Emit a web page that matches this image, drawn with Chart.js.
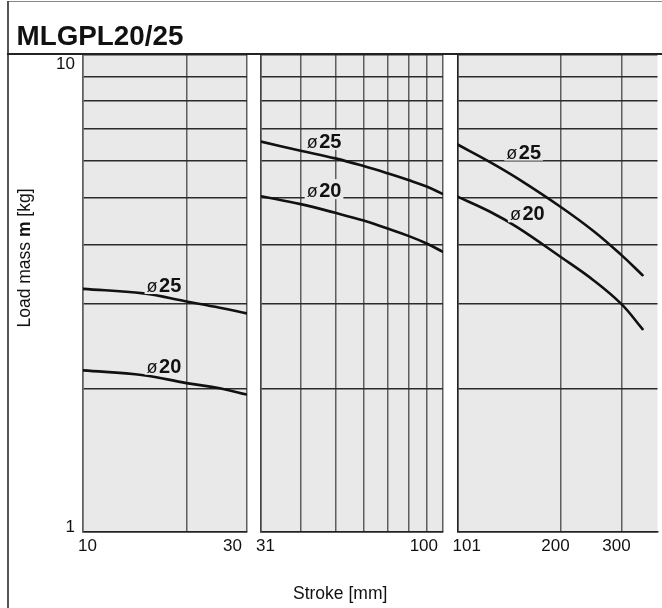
<!DOCTYPE html>
<html>
<head>
<meta charset="utf-8">
<script src="https://cdn.jsdelivr.net/npm/chart.js@4.4.1/dist/chart.umd.min.js"></script>
<style>
  html, body { margin: 0; padding: 0; background: #fff; }
  #wrap { position: relative; width: 662px; height: 608px; overflow: hidden; background: #fff;
          font-family: 'Liberation Sans', Arial, Helvetica, sans-serif; color: #111; }
  canvas { position: absolute; left: 0; top: 0; }
  .ln { position: absolute; }
  #title { position: absolute; left: 16.5px; top: 20.5px; font-size: 27.8px; line-height: 30px; font-weight: bold; white-space: nowrap; }
  #ytitle { position: absolute; width: 200px; height: 20px; line-height: 20px; font-size: 17.5px; text-align: center;
            left: -76px; top: 248px; transform: rotate(-90deg); transform-origin: 50% 50%; white-space: nowrap; }
  #xtitle { position: absolute; left: 293px; top: 583px; font-size: 17.5px; line-height: 20px; white-space: nowrap; }
</style>
</head>
<body>
<div id="wrap">
  <canvas id="c1" width="662" height="608"></canvas>
  <canvas id="c2" width="662" height="608"></canvas>
  <canvas id="c3" width="662" height="608"></canvas>
  <div class="ln" style="left:7px;top:0.5px;width:655px;height:1.2px;background:#888;"></div>
  <div class="ln" style="left:7px;top:0.5px;width:1.5px;height:608px;background:#555;"></div>
  <div class="ln" style="left:7px;top:53.2px;width:655px;height:1.5px;background:#222;"></div>
  <div id="title">MLGPL20/25</div>
  <div id="ytitle">Load mass <b>m</b> [kg]</div>
  <div id="xtitle">Stroke [mm]</div>
</div>
<script>
// ---------------- data ----------------
const seriesNames = ['ø25', 'ø20'];

const panel1Stroke = [10, 15, 20, 25, 30];
const panel1Phi25  = [3.23, 3.16, 3.04, 2.95, 2.87];
const panel1Phi20  = [2.18, 2.13, 2.05, 2.00, 1.94];

const panel2Stroke = [31, 40, 50, 60, 70, 80, 90, 100];
const panel2Phi25  = [6.57, 6.29, 6.06, 5.84, 5.64, 5.46, 5.29, 5.10];
const panel2Phi20  = [5.05, 4.86, 4.66, 4.49, 4.32, 4.17, 4.02, 3.86];

const panel3Stroke = [101, 125, 150, 200, 250, 300, 345];
const panel3Phi25  = [6.48, 5.96, 5.51, 4.80, 4.26, 3.80, 3.45];
const panel3Phi20  = [5.04, 4.69, 4.35, 3.77, 3.36, 3.00, 2.66];

const panel1XTicks = [10, 20, 30];
const panel1XTickLabels = ['10', '', '30'];
const panel2XTicks = [31, 40, 50, 60, 70, 80, 90, 100];
const panel2XTickLabels = ['31', '', '', '', '', '', '', '100'];
const panel3XTicks = [101, 200, 300, 381];
const panel3XTickLabels = ['101', '200', '300', ''];

const yTicks = [1, 2, 3, 4, 5, 6, 7, 8, 9, 10];
const yTickLabels = ['1', '', '', '', '', '', '', '', '', '10'];

// curve-label anchors (data coordinates): [ø25, ø20]
const panel1LabelX = [17.2, 17.2],   panel1LabelY = [3.29, 2.23];
const panel2LabelX = [46.5, 46.5],   panel2LabelY = [6.59, 5.20];
const panel3LabelX = [156.7, 160.5], panel3LabelY = [6.26, 4.65];

// ---------------- drawing ----------------
const FONT = "'Liberation Sans', Arial, Helvetica, sans-serif";
const BG = '#e8e9e8';
const HGRID = '#2b2b2b';
const VGRID = '#5e5e5e';

const bgPlugin = {
  id: 'areaBg',
  beforeDraw(chart) {
    const a = chart.chartArea, ctx = chart.ctx;
    ctx.save(); ctx.fillStyle = BG;
    ctx.fillRect(a.left, a.top, a.right - a.left, a.bottom - a.top);
    ctx.restore();
  }
};

const curveLabelPlugin = {
  id: 'curveLabels',
  afterDatasetsDraw(chart, args, opts) {
    const ctx = chart.ctx, xs = chart.scales.x, ys = chart.scales.y;
    opts.xs.forEach((xv, i) => {
      const px = xs.getPixelForValue(xv), py = ys.getPixelForValue(opts.ys[i]);
      const name = seriesNames[i];
      const sym = name.charAt(0), num = name.slice(1);
      ctx.save();
      ctx.font = '18px ' + FONT; const w1 = ctx.measureText(sym).width;
      ctx.font = 'bold 20px ' + FONT; const w2 = ctx.measureText(num).width;
      const gap = 1.5, w = w1 + gap + w2;
      ctx.fillStyle = BG;
      ctx.fillRect(px - w / 2 - 2, py - 11, w + 4, 20);
      ctx.fillStyle = '#111'; ctx.textBaseline = 'alphabetic'; ctx.textAlign = 'left';
      ctx.font = '18px ' + FONT; ctx.fillText(sym, px - w / 2, py + 7);
      ctx.font = 'bold 20px ' + FONT; ctx.fillText(num, px - w / 2 + w1 + gap, py + 7);
      ctx.restore();
    });
  }
};

function makePanel(id, spec) {
  const yW = spec.showY ? 30 : 0;
  const ds = (xArr, yArr) => xArr.map((x, i) => ({ x: x, y: yArr[i] }));
  return new Chart(document.getElementById(id), {
    type: 'line',
    data: {
      datasets: [
        { label: seriesNames[0], data: ds(spec.stroke, spec.phi25) },
        { label: seriesNames[1], data: ds(spec.stroke, spec.phi20) }
      ]
    },
    plugins: [bgPlugin, curveLabelPlugin],
    options: {
      responsive: false, animation: false, devicePixelRatio: 1,
      layout: { padding: { left: spec.left - yW, right: 662 - spec.right, top: 54.5, bottom: 46 } },
      plugins: {
        legend: { display: false }, tooltip: { enabled: false },
        curveLabels: { xs: spec.labelX, ys: spec.labelY }
      },
      elements: {
        point: { radius: 0 },
        line: { borderWidth: 2.6, borderColor: '#111', tension: 0.4, capBezierPoints: true,
                borderJoinStyle: 'round', borderCapStyle: 'round', fill: false }
      },
      scales: {
        x: {
          type: 'logarithmic', min: spec.xMin, max: spec.xMax,
          afterBuildTicks: s => { s.ticks = spec.xTicks.map(v => ({ value: v })); },
          afterFit: s => { s.height = 30; },
          ticks: {
            autoSkip: false, maxRotation: 0, minRotation: 0, align: 'inner',
            padding: 4.5, labelOffset: -5, color: '#111',
            font: { family: FONT, size: 17 },
            callback: (v, i) => spec.xTickLabels[i]
          },
          grid: {
            drawTicks: false, lineWidth: 1.5,
            color: c => (spec.hideLastV && c.tick && c.tick.value === spec.xMax) ? 'rgba(0,0,0,0)' : VGRID
          },
          border: { display: true, color: '#222', width: 1.5 }
        },
        y: {
          type: 'logarithmic', min: 1, max: 10,
          afterBuildTicks: s => { s.ticks = yTicks.map(v => ({ value: v })); },
          afterFit: s => { s.width = yW; },
          ticks: {
            display: spec.showY, autoSkip: false, padding: 8, color: '#111',
            font: c => ({ family: FONT, size: 17, lineHeight: (c.tick && c.tick.value === 10) ? '20px' : '10px' }),
            callback: (v, i) => {
              const t = yTickLabels[i];
              if (!t) return '';
              return v === 10 ? ['', t] : [t, ''];
            }
          },
          grid: { drawTicks: false, lineWidth: 1.5, color: HGRID },
          border: { display: true, color: spec.yBorder, width: 1.5 }
        }
      }
    }
  });
}

makePanel('c1', { stroke: panel1Stroke, phi25: panel1Phi25, phi20: panel1Phi20,
  xMin: 10, xMax: 30, xTicks: panel1XTicks, xTickLabels: panel1XTickLabels,
  left: 83, right: 247, showY: true, yBorder: VGRID, labelX: panel1LabelX, labelY: panel1LabelY });
makePanel('c2', { stroke: panel2Stroke, phi25: panel2Phi25, phi20: panel2Phi20,
  xMin: 31, xMax: 100, xTicks: panel2XTicks, xTickLabels: panel2XTickLabels,
  left: 261, right: 443, showY: false, yBorder: '#444', labelX: panel2LabelX, labelY: panel2LabelY });
makePanel('c3', { stroke: panel3Stroke, phi25: panel3Phi25, phi20: panel3Phi20,
  xMin: 101, xMax: 381, xTicks: panel3XTicks, xTickLabels: panel3XTickLabels, hideLastV: true,
  left: 457.5, right: 662, showY: false, yBorder: '#222', labelX: panel3LabelX, labelY: panel3LabelY });
</script>
</body>
</html>
